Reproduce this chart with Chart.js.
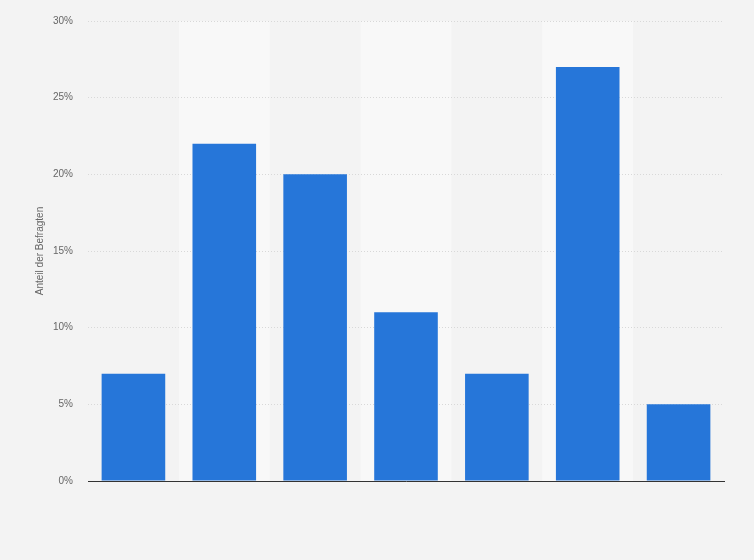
<!DOCTYPE html>
<html>
<head>
<meta charset="utf-8">
<script src="https://cdn.jsdelivr.net/npm/chart.js@4/dist/chart.umd.min.js"></script>
<style>
  html, body { margin: 0; padding: 0; background: #f3f3f3; }
  #wrap { width: 754px; height: 560px; }
</style>
</head>
<body>
<div id="wrap"><canvas id="grafico"></canvas></div>
<script>
// Datos del gráfico
const kategorien = ["1", "2", "3", "4", "5", "6", "7"];
const anteile = [7, 22, 20, 11, 7, 27, 5];
const yTicks = [0, 5, 10, 15, 20, 25, 30];

// Franjas alternas de fondo (columnas pares más claras), antes de la rejilla
const franjas = {
    id: "franjas",
    beforeDraw(chart) {
        const { ctx, chartArea, scales: { x } } = chart;
        const paso = chartArea.width / kategorien.length;
        ctx.save();
        ctx.fillStyle = "#f8f8f8";
        kategorien.forEach((k, i) => {
            if (i % 2 === 1) {
                const cx = x.getPixelForValue(i);
                ctx.fillRect(cx - paso / 2, chartArea.top, paso, chartArea.bottom - chartArea.top);
            }
        });
        ctx.restore();
    }
};

new Chart(document.getElementById("grafico"), {
    type: "bar",
    data: {
        labels: kategorien,
        datasets: [{
            data: anteile,
            backgroundColor: "#2676d9",
            borderWidth: 0,
            categoryPercentage: 1,
            barPercentage: 0.7
        }]
    },
    options: {
        responsive: true,
        maintainAspectRatio: false,
        animation: false,
        layout: { padding: { left: 30, right: 30, top: 13, bottom: 71 } },
        plugins: { legend: { display: false }, tooltip: { enabled: false } },
        scales: {
            x: {
                grid: { display: false },
                border: { display: true, color: "#333333", width: 1 },
                ticks: { display: false }
            },
            y: {
                min: 0,
                max: 30,
                afterBuildTicks(scale) { scale.ticks = yTicks.map(v => ({ value: v })); },
                afterFit(scale) { scale.width = 58; },
                grid: { color: "#d8d8d8", drawTicks: false },
                border: { display: false, dash: [1, 2] },
                ticks: {
                    padding: 15,
                    color: "#666666",
                    font: { family: "Arial, 'Liberation Sans', sans-serif", size: 10 },
                    callback: v => v + "%"
                },
                title: {
                    display: true,
                    text: "Anteil der Befragten",
                    color: "#666666",
                    font: { family: "Arial, 'Liberation Sans', sans-serif", size: 10 }
                }
            }
        }
    },
    plugins: [franjas]
});
</script>
</body>
</html>
